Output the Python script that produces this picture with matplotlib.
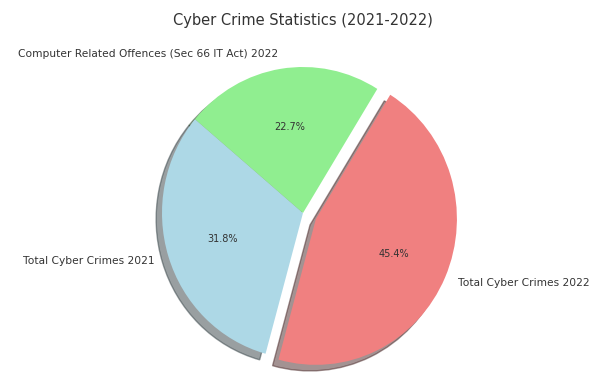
import matplotlib
matplotlib.use("Agg")
import matplotlib.pyplot as plt

# data
labels = ["Total Cyber Crimes 2021", "Total Cyber Crimes 2022",
          "Computer Related Offences (Sec 66 IT Act) 2022"]
shares = [31.8, 45.4, 22.7]
colors = ["lightblue", "lightcoral", "lightgreen"]
explode = [0, 0.1, 0]

W, H = 594, 377
fig = plt.figure(figsize=(W / 100, H / 100), dpi=100)
ax = fig.add_axes([0, 0, 1, 1])

wedges, texts, autotexts = ax.pie(
    shares, labels=labels, colors=colors, explode=explode,
    autopct="%1.1f%%", startangle=140,
    shadow={"ox": -0.03, "oy": -0.03, "alpha": 0.5},
    textprops={"fontsize": 7.7, "color": "#333333"},
)
for t in autotexts:
    t.set_fontsize(7)

# pie centre ~(303, 213) px from top-left, radius ~141 px wide / 146 px tall
cx, cy, rx, ry = 303, 213, 141, 146
ax.set_aspect("auto")
ax.set_xlim(-cx / rx, (W - cx) / rx)
ax.set_ylim(-(H - cy) / ry, cy / ry)
ax.axis("off")

fig.suptitle("Cyber Crime Statistics (2021-2022)", x=cx / W, y=1 - 21 / H,
             va="center", fontsize=10.5, color="#333333")

fig.savefig("out.png", dpi=100)
